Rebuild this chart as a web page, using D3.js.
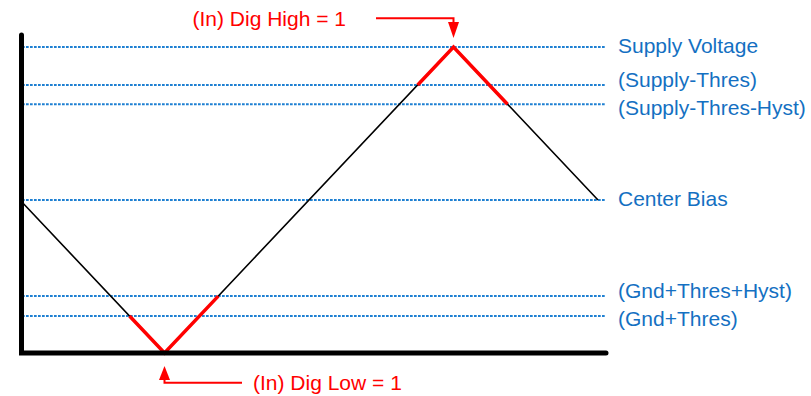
<!DOCTYPE html>
<html>
<head>
    <meta charset="utf-8">
    <style>
        body {
            margin: 0;
            background: #fff;
        }

        svg text {
            font-family: "Liberation Sans", Arial, sans-serif;
            font-size: 21px;
        }

        .level {
            stroke: #1f80d2;
            stroke-width: 2;
            stroke-dasharray: 2.7, 1.3;
            fill: none;
        }

        .level-label {
            fill: #1470c2;
        }

        .wave {
            stroke: #000;
            stroke-width: 1.6;
            fill: none;
        }

        .active {
            stroke: #ff0000;
            stroke-width: 3.5;
            fill: none;
        }

        .note {
            fill: #ff0000;
        }

        .arrow {
            stroke: #ff0000;
            stroke-width: 2;
            fill: none;
        }
    </style>
</head>
<body>
    <div id="container"></div>
    <script src="https://d3js.org/d3.v7.min.js"></script>
    <script>
        // threshold levels (0 = Gnd, 100 = Supply)
        var levelNames = ["Supply Voltage", "(Supply-Thres)", "(Supply-Thres-Hyst)", "Center Bias", "(Gnd+Thres+Hyst)", "(Gnd+Thres)"];
        var levelValues = [100, 87.6, 81.3, 50, 18.6, 12.1];

        // input waveform (time, level)
        var waveTime = [0, 50, 150, 200];
        var waveLevel = [50, 0, 100, 50];

        var noteHigh = "(In) Dig High = 1";
        var noteLow = "(In) Dig Low = 1";

        function chart() {
            var width = 811, height = 396;

            var x = d3.scaleLinear().domain([0, 200]).range([20, 598]);
            var y = d3.scaleLinear().domain([0, 100]).range([353, 47]);

            var svg = d3.select("#container").append("svg")
                .attr("width", width)
                .attr("height", height);

            // dotted level lines
            svg.append("g")
                .selectAll("line")
                .data(levelValues)
                .join("line")
                .attr("class", "level")
                .attr("x1", 22)
                .attr("x2", 605)
                .attr("y1", d => y(d))
                .attr("y2", d => y(d));

            // labels, pushed apart when levels sit close together
            var labelY = levelValues.map(d => y(d));
            var minGap = 28;
            for (var i = 0; i < labelY.length - 1; i++) {
                var gap = labelY[i + 1] - labelY[i];
                if (gap < minGap) {
                    var mid = (labelY[i] + labelY[i + 1]) / 2;
                    labelY[i] = mid - minGap / 2;
                    labelY[i + 1] = mid + minGap / 2;
                }
            }

            svg.append("g")
                .selectAll("text")
                .data(levelNames)
                .join("text")
                .attr("class", "level-label")
                .attr("x", 618)
                .attr("y", (d, i) => labelY[i] + 6)
                .text(d => d);

            // waveform
            var pts = waveTime.map((t, i) => [t, waveLevel[i]]);
            var line = d3.line().x(d => x(d[0])).y(d => y(d[1]));

            svg.append("path")
                .datum(pts)
                .attr("class", "wave")
                .attr("d", line);

            // time at which segment (a -> b) crosses level v
            function cross(a, b, v) {
                return [a[0] + (v - a[1]) / (b[1] - a[1]) * (b[0] - a[0]), v];
            }

            var lowActive = [cross(pts[0], pts[1], levelValues[5]), pts[1], cross(pts[1], pts[2], levelValues[4])];
            var highActive = [cross(pts[1], pts[2], levelValues[1]), pts[2], cross(pts[2], pts[3], levelValues[2])];

            svg.append("g")
                .selectAll("path")
                .data([lowActive, highActive])
                .join("path")
                .attr("class", "active")
                .attr("stroke-linejoin", "miter")
                .attr("d", line);

            // axes
            svg.append("path")
                .attr("d", "M21.5,35V353H606")
                .attr("stroke", "#000")
                .attr("stroke-width", 5)
                .attr("stroke-linecap", "round")
                .attr("fill", "none");

            // annotations
            var hx = x(pts[2][0]), hy = y(pts[2][1]);
            svg.append("path")
                .attr("class", "arrow")
                .attr("d", "M376,18.3H" + hx + "V24");
            svg.append("path")
                .attr("fill", "#ff0000")
                .attr("d", "M" + (hx - 5.5) + ",22L" + (hx + 5.5) + ",22L" + hx + "," + (hy - 9) + "Z");
            svg.append("text")
                .attr("class", "note")
                .attr("x", 346)
                .attr("y", 26)
                .attr("text-anchor", "end")
                .text(noteHigh);

            var lx = x(pts[1][0]), ly = y(pts[1][1]);
            svg.append("path")
                .attr("class", "arrow")
                .attr("d", "M242,382.7H" + lx + "V378");
            svg.append("path")
                .attr("fill", "#ff0000")
                .attr("d", "M" + (lx - 5.5) + ",380L" + (lx + 5.5) + ",380L" + lx + "," + (ly + 13) + "Z");
            svg.append("text")
                .attr("class", "note")
                .attr("x", 253)
                .attr("y", 390)
                .text(noteLow);
        }

        chart();
    </script>
</body>
</html>
